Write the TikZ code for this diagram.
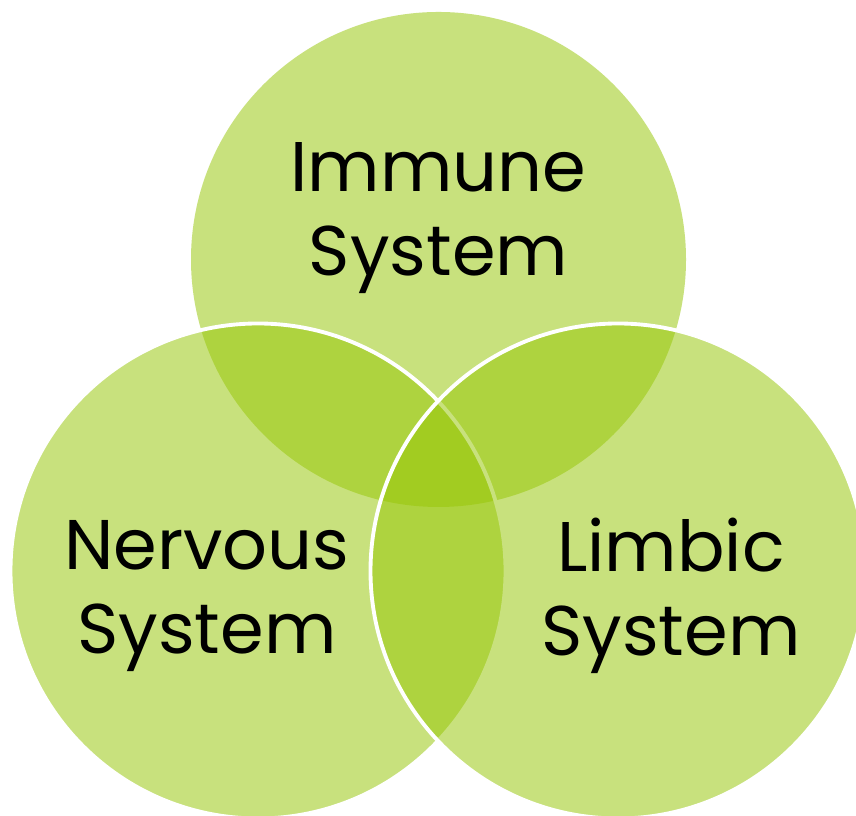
\documentclass[tikz,border=0pt]{standalone}
\usepackage{fontspec}
\setmainfont{Poppins}
\usepackage{xcolor}
\usetikzlibrary{positioning}

\definecolor{vennfill}{RGB}{151,199,7}

\tikzset{
  venn/.style={circle, minimum size=9.9cm, inner sep=0pt, fill=vennfill, fill opacity=0.52},
  vennring/.style={venn, draw=white, draw opacity=1, line width=2.2pt},
  vennlabel/.style={align=center, text=black, font=\fontsize{40}{47.5}\selectfont}
}

\begin{document}
\begin{tikzpicture}[node distance=7.2cm, on grid]
        \fill[white, use as bounding box] (0,0) rectangle (17.12,16.32);
        \clip (0,0) rectangle (17.12,16.32);

        \node[venn] (immune) at (8.77,11.13) {};
        \node[vennring] (nervous) at (5.16,4.90) {};
        \node[vennring] (limbic) [right=of nervous] {};

        \node[vennlabel] (immunetext) [above=0.83cm of immune] {Immune\\System};
        \node[vennlabel] (nervoustext) [below left=0.5cm and 1.02cm of nervous] {Nervous\\System};
        \node[vennlabel] (limbictext) [below right=0.5cm and 1.06cm of limbic] {Limbic\\System};
    \end{tikzpicture}
\end{document}
